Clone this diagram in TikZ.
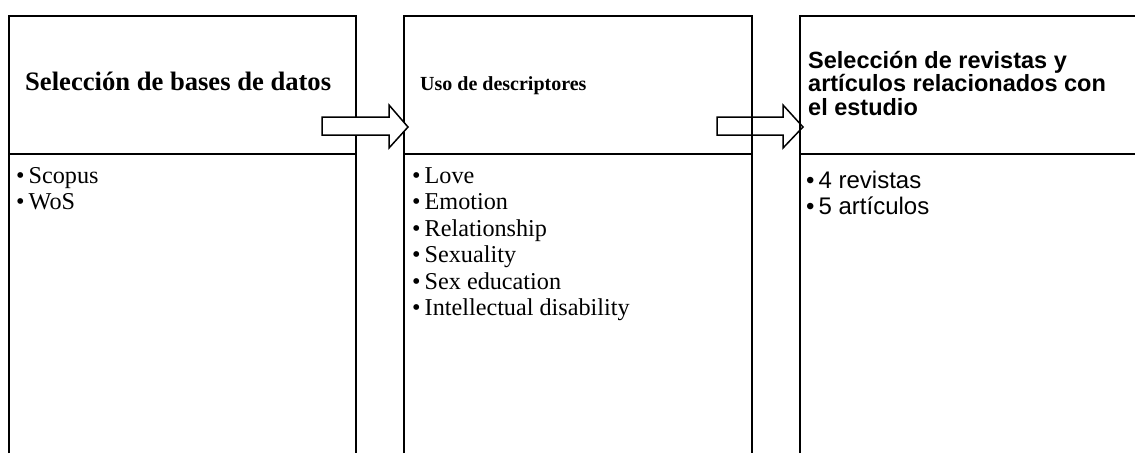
\documentclass[tikz,border=0pt]{standalone}
\usepackage{fontspec}
\setmainfont{Liberation Serif}
\newfontfamily\arialf{Liberation Sans}
\tikzset{
  boxline/.style={line width=1.4pt},
  divline/.style={line width=2pt},
  blockarrow/.style={line width=1.5pt, line join=miter},
  txt/.style={inner sep=0pt, anchor=base west},
  titleA/.style={txt, font=\fontsize{26.6}{30}\selectfont\bfseries},
  titleB/.style={txt, font=\fontsize{20}{24}\selectfont\bfseries},
  titleC/.style={txt, font=\arialf\fontsize{23.5}{23.5}\selectfont\bfseries},
  listA/.style={txt, font=\fontsize{24.2}{26.5}\selectfont},
  listC/.style={txt, font=\arialf\fontsize{24}{26}\selectfont},
}
\begin{document}
\begin{tikzpicture}[x=1pt,y=-1pt]
\useasboundingbox (0,0) rectangle (1135,453);
% box 1
\draw[boxline] (9,453) -- (9,16) -- (356,16) -- (356,453);
\draw[divline] (9,154) -- (356,154);
% box 2
\draw[boxline] (404,453) -- (404,16) -- (752,16) -- (752,453);
\draw[divline] (404,154) -- (752,154);
% box 3
\draw[boxline] (800,453) -- (800,16) -- (1140,16);
\draw[divline] (800,154) -- (1140,154);
% titles
\node[titleA] (t1) at (25,90) {Selección de bases de datos};
\node[titleB] (t2) at (420,90) {Uso de descriptores};
\node[titleC] (t3) at (808,68) {\vtop{\hbox{Selección de revistas y}\hbox{artículos relacionados con}\hbox{el estudio}}};
% lists
\node[listA] (l1) at (16,183) {\vtop{\hbox{\textbullet\,Scopus}\hbox{\textbullet\,WoS}}};
\node[listA] (l2) at (412,183) {\vtop{\hbox{\textbullet\,Love}\hbox{\textbullet\,Emotion}\hbox{\textbullet\,Relationship}\hbox{\textbullet\,Sexuality}\hbox{\textbullet\,Sex education}\hbox{\textbullet\,Intellectual disability}}};
\node[listC] (l3) at (806,188) {\vtop{\hbox{\textbullet\,4 revistas}\hbox{\textbullet\,5 artículos}}};
% block arrows
\draw[blockarrow, fill=white] (322,117) -- (389,117) -- (389,105) -- (408,127) -- (389,148) -- (389,135) -- (322,135) -- cycle;
\draw[blockarrow] (717,117) -- (783,117) -- (783,105) -- (803,127) -- (783,148) -- (783,135) -- (717,135) -- cycle;
\end{tikzpicture}
\end{document}
